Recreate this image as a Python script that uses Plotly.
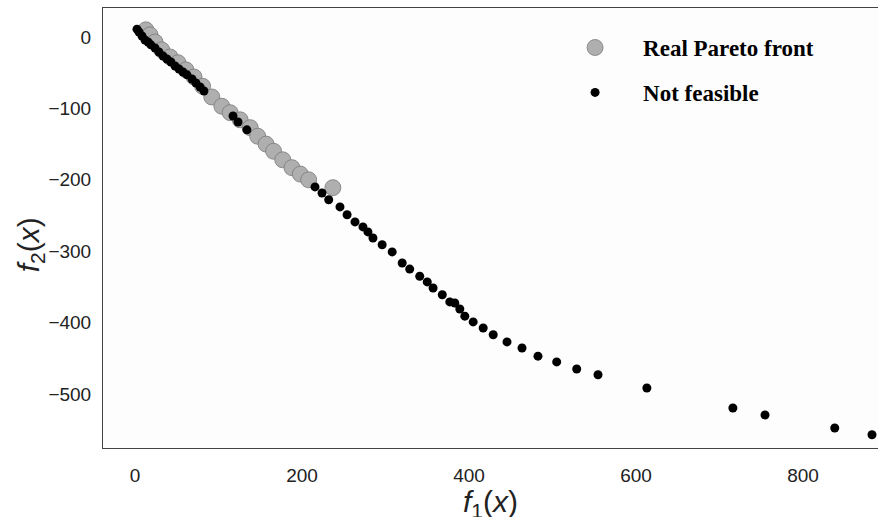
import plotly.graph_objects as go

# Real Pareto front (gray)
pareto_f1 = [13, 18, 24, 32, 42, 51.5, 61, 70.7, 81, 92, 104, 114, 126, 138, 147,
             157, 166, 177, 188, 198, 208, 237]
pareto_f2 = [10, 3, -7, -18, -28, -36, -46, -56, -69, -84, -97, -106, -116, -127, -139,
             -150, -160, -172, -183, -192, -200, -211]

# Not feasible (black)
nf_f1 = [2.4, 4.8, 8.4, 12, 15.6, 19, 24, 28.7, 33.5, 38.3, 43, 48, 52.7, 57.5, 62.3,
         68.3, 73, 78, 82.6, 117.4, 123.4, 134, 215.6, 224, 232, 245.5, 254, 263.5, 273,
         279, 285, 296, 308, 320, 329, 341, 350, 357, 368, 377, 383, 389, 395, 405, 417,
         429, 445.5, 463.5, 482.6, 505, 529, 554.5, 613, 716, 754.5, 838, 882.6]
nf_f2 = [11, 7, 1.4, -4.2, -7, -11, -15.4, -21, -26.6, -30.8, -35, -40.6, -44.8, -49, -53,
         -58.8, -64.4, -70, -75.6, -110.6, -119, -130, -210, -218.5, -228, -238, -249, -259,
         -266, -273, -281.5, -291, -301, -316.5, -325, -335, -343, -351.5, -361, -371,
         -372.5, -381, -391, -399, -407.5, -417, -427, -435.6, -447, -455, -465, -473,
         -491.6, -519.6, -529.4, -547.6, -557]

x_ticks = [0, 200, 400, 600, 800]
y_ticks = [0, -100, -200, -300, -400, -500]

fig = go.Figure()
fig.add_trace(go.Scatter(
    x=pareto_f1, y=pareto_f2, mode="markers", name="Real Pareto front",
    legendgroup="a", legendrank=1,
    marker=dict(size=16, color="#afafaf", line=dict(color="#7a7a7a", width=0.8)),
))
fig.add_trace(go.Scatter(
    x=nf_f1, y=nf_f2, mode="markers", name="Not feasible",
    legendgroup="b", legendrank=2,
    marker=dict(size=9, color="#000000", line=dict(width=0)),
))

title_font = dict(family="Liberation Sans", size=30, color="#222222")

fig.update_layout(
    width=878, height=517,
    margin=dict(l=103, r=0, t=8, b=69, autoexpand=False),
    paper_bgcolor="white", plot_bgcolor="#fdfdfd",
    showlegend=True,
    legend=dict(
        x=0.573, y=0.959, xanchor="left", yanchor="top",
        bgcolor="rgba(0,0,0,0)", traceorder="grouped", tracegroupgap=12,
        itemwidth=86,
        font=dict(family="Liberation Serif", size=23, color="#000000", weight="bold"),
    ),
    xaxis=dict(
        range=[-38.3, 889.8], tickvals=x_ticks, showgrid=False, zeroline=False,
        showline=True, mirror=True, linecolor="#444444", linewidth=1,
        ticks="", ticklabelstandoff=10, automargin=False,
        tickfont=dict(family="Liberation Sans", size=19, color="#222222"),
    ),
    yaxis=dict(
        range=[-575.6, 40.6], tickvals=y_ticks, showgrid=False, zeroline=False,
        showline=True, mirror=False, linecolor="#444444", linewidth=1,
        ticks="", ticklabelstandoff=7, automargin=False,
        tickfont=dict(family="Liberation Sans", size=19, color="#222222"),
    ),
    annotations=[
        dict(text="<i>f</i><sub>1</sub>(<i>x</i>)", xref="paper", yref="paper",
             x=0.5, y=-0.125, xanchor="center", yanchor="middle",
             showarrow=False, font=title_font),
        dict(text="<i>f</i><sub>2</sub>(<i>x</i>)", xref="paper", yref="paper",
             x=-0.094, y=0.461, xanchor="center", yanchor="middle", textangle=-90,
             showarrow=False, font=title_font),
    ],
)

fig.write_html(
    "out.html",
    config={"displayModeBar": False},
    post_script="document.body.style.margin='0';document.body.style.overflow='hidden';",
)
